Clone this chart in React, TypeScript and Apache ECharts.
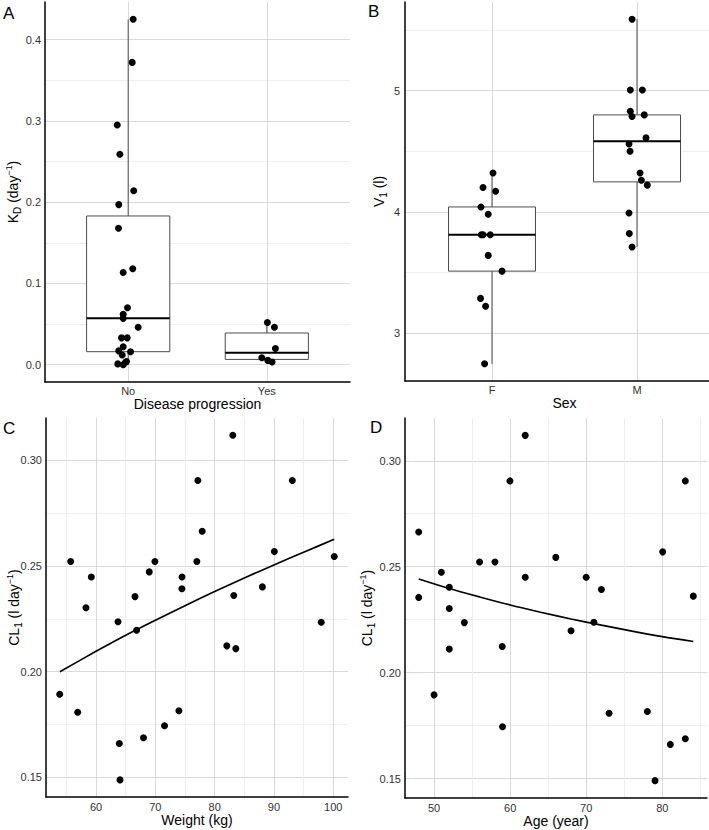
import React, { useEffect, useRef } from 'react';
import * as echarts from 'echarts';

const FONT = '"Liberation Sans", Arial, Helvetica, sans-serif';

// ---------- Panel A: K_D by disease progression ----------
const progressionCategories = ['No', 'Yes'];
const kdNoX = [1.036, 1.029, 0.921, 0.94, 1.04, 0.932, 0.93, 0.964, 1.033, 0.995, 0.964, 0.964, 1.072, 0.952, 0.993, 0.964, 0.932, 1.017, 0.957, 0.981, 0.925, 0.964, 0.988];
const kdNoY = [0.425, 0.372, 0.295, 0.259, 0.214, 0.197, 0.168, 0.1135, 0.118, 0.07, 0.062, 0.057, 0.046, 0.033, 0.033, 0.022, 0.017, 0.016, 0.012, 0.003, 0.001, 0.0, 0.004];
const kdYesX = [2.004, 2.055, 2.062, 1.964, 2.007, 2.038];
const kdYesY = [0.052, 0.046, 0.02, 0.0086, 0.0053, 0.0033];
// [position, lower whisker, Q1, median, Q3, upper whisker]
const kdBoxes = [
  [1, 0.0, 0.016, 0.057, 0.183, 0.425],
  [2, 0.0033, 0.0065, 0.0148, 0.039, 0.051],
];
const kdTicks = [0, 0.05, 0.1, 0.15, 0.2, 0.25, 0.3, 0.35, 0.4];
const kdLabels = [0, 0.1, 0.2, 0.3, 0.4];

// ---------- Panel B: V1 by sex ----------
const sexCategories = ['F', 'M'];
const v1FX = [1.007, 0.938, 1.025, 0.924, 0.974, 0.926, 0.938, 0.988, 0.974, 1.069, 0.921, 0.956, 0.949];
const v1FY = [4.32, 4.2, 4.17, 4.04, 3.98, 3.81, 3.81, 3.81, 3.64, 3.51, 3.285, 3.22, 2.745];
const v1MX = [1.966, 1.954, 2.037, 1.954, 1.966, 2.05, 2.062, 1.945, 1.952, 2.021, 2.03, 2.071, 1.945, 1.947, 1.966];
const v1MY = [5.59, 5.006, 5.006, 4.83, 4.786, 4.8, 4.61, 4.56, 4.5, 4.32, 4.26, 4.22, 3.99, 3.82, 3.71];
const v1Boxes = [
  [1, 2.745, 3.51, 3.81, 4.04, 4.32],
  [2, 3.71, 4.247, 4.583, 4.8, 5.59],
];
const v1Ticks = [3, 3.5, 4, 4.5, 5, 5.5];
const v1Labels = [3, 4, 5];

// ---------- Panel C: CL1 vs weight ----------
const weight = [83.06, 77.17, 93.1, 77.9, 90.07, 55.72, 69.93, 77.0, 100.17, 59.2, 74.5, 68.97, 74.48, 88.05, 66.57, 83.23, 58.3, 63.7, 97.98, 66.84, 82.05, 83.57, 53.87, 56.9, 73.97, 71.55, 68.0, 63.92, 64.04];
const clWeight = [0.3118, 0.2904, 0.2904, 0.2664, 0.2568, 0.2521, 0.2521, 0.2521, 0.2545, 0.2448, 0.2448, 0.2472, 0.2392, 0.2401, 0.2355, 0.236, 0.2302, 0.2236, 0.2234, 0.2196, 0.2122, 0.2109, 0.1893, 0.1808, 0.1815, 0.1744, 0.1687, 0.166, 0.1488];
const weightFitX = [53.9, 60, 65, 70, 75, 80, 85, 90, 95, 100.17];
const weightFitY = [0.2, 0.2096, 0.2172, 0.2243, 0.2312, 0.2379, 0.2443, 0.2505, 0.2565, 0.2626];
const weightTicks = [55, 60, 65, 70, 75, 80, 85, 90, 95, 100];
const weightLabels = [60, 70, 80, 90, 100];

// ---------- Panel D: CL1 vs age ----------
const age = [61.98, 59.97, 83.02, 47.98, 80.05, 66.0, 55.98, 58.0, 50.96, 61.98, 69.99, 52.0, 71.99, 47.98, 84.07, 52.0, 53.98, 71.0, 68.0, 52.0, 58.96, 50.0, 59.0, 73.0, 78.03, 83.02, 81.05, 79.04];
const clAge = [0.312, 0.2905, 0.2905, 0.2664, 0.257, 0.2544, 0.2522, 0.2522, 0.2474, 0.245, 0.245, 0.2403, 0.2392, 0.2355, 0.2361, 0.2303, 0.2236, 0.2238, 0.2198, 0.2111, 0.2123, 0.1895, 0.1744, 0.1808, 0.1816, 0.1688, 0.1661, 0.149];
const ageFitX = [47.98, 52, 56, 60, 64, 68, 72, 76, 80, 84.07];
const ageFitY = [0.2442, 0.2397, 0.2357, 0.2319, 0.2285, 0.2253, 0.2224, 0.2196, 0.2170, 0.2147];
const ageTicks = [50, 55, 60, 65, 70, 75, 80, 85];
const ageLabels = [50, 60, 70, 80];

const clTicks = [0.15, 0.175, 0.2, 0.225, 0.25, 0.275, 0.3];
const clLabels = [0.15, 0.2, 0.25, 0.3];

const MAJOR = '#d9d9d9';
const MINOR = '#eeeeee';
const BOX_HALF = 0.3;

const zip = (xs: number[], ys: number[]) => xs.map((x, i) => [x, ys[i]]);

const richName = {
  n: { fontSize: 14, fontFamily: FONT, color: '#000', lineHeight: 18 },
  s: { fontSize: 10, fontFamily: FONT, color: '#000', lineHeight: 10, verticalAlign: 'bottom' },
  p: { fontSize: 9, fontFamily: FONT, color: '#000', lineHeight: 10, verticalAlign: 'top' },
};

function valueAxis(opts: any) {
  const {
    gridIndex, min, max, ticks, labels, colors, fmt, name, nameGap, margin, horizontal,
  } = opts;
  return {
    type: 'value',
    gridIndex,
    min,
    max,
    name,
    nameLocation: 'middle',
    nameGap,
    nameMoveOverlap: !!horizontal,
    nameTextStyle: horizontal
      ? { fontSize: 14, fontFamily: FONT, color: '#000' }
      : { fontSize: 14, fontFamily: FONT, color: '#000', rich: richName },
    axisLine: { show: true, onZero: false, lineStyle: { color: '#000', width: 1.5 } },
    axisTick: { show: false, customValues: ticks },
    axisLabel: {
      customValues: labels,
      formatter: fmt,
      fontSize: 11,
      fontFamily: FONT,
      color: '#333',
      margin,
    },
    splitLine: { show: true, lineStyle: { color: colors, width: 1 } },
    minorSplitLine: { show: false },
  };
}

function renderBox(params: any, api: any) {
  const x = api.value(0);
  const lo = api.value(1);
  const q1 = api.value(2);
  const med = api.value(3);
  const q3 = api.value(4);
  const hi = api.value(5);
  const c = (v: number) => api.coord([x, v]);
  const tl = api.coord([x - BOX_HALF, q3]);
  const br = api.coord([x + BOX_HALF, q1]);
  const ml = api.coord([x - BOX_HALF, med]);
  const mr = api.coord([x + BOX_HALF, med]);
  const whisker = { stroke: '#4d4d4d', lineWidth: 1 };
  return {
    type: 'group',
    children: [
      { type: 'line', shape: { x1: c(hi)[0], y1: c(hi)[1], x2: c(q3)[0], y2: c(q3)[1] }, style: whisker },
      { type: 'line', shape: { x1: c(q1)[0], y1: c(q1)[1], x2: c(lo)[0], y2: c(lo)[1] }, style: whisker },
      {
        type: 'rect',
        shape: { x: tl[0], y: tl[1], width: br[0] - tl[0], height: br[1] - tl[1] },
        style: { fill: '#fff', stroke: '#4d4d4d', lineWidth: 1 },
      },
      { type: 'line', shape: { x1: ml[0], y1: ml[1], x2: mr[0], y2: mr[1] }, style: { stroke: '#000', lineWidth: 2 } },
    ],
  };
}

function pointSeries(xAxisIndex: number, data: number[][]) {
  return {
    type: 'scatter',
    xAxisIndex,
    yAxisIndex: xAxisIndex,
    data,
    symbol: 'circle',
    symbolSize: 7,
    itemStyle: { color: '#000', opacity: 1 },
    z: 5,
    silent: true,
  };
}

export default function App() {
  const ref = useRef<HTMLDivElement>(null);

  useEffect(() => {
    if (!ref.current) return;
    const chart = echarts.init(ref.current, null, { renderer: 'svg' });

    const option: any = {
      animation: false,
      backgroundColor: '#fff',
      grid: [
        { left: 45, top: 2, width: 305, height: 380, outerBoundsMode: 'none' },
        { left: 405, top: 2, width: 319, height: 379, outerBoundsMode: 'none' },
        { left: 46, top: 418, width: 302, height: 379, outerBoundsMode: 'none' },
        { left: 405, top: 418, width: 302, height: 380, outerBoundsMode: 'none' },
      ],
      xAxis: [
        valueAxis({
          gridIndex: 0, min: 0.4, max: 2.6, ticks: [1, 2], labels: [1, 2], colors: [MAJOR],
          fmt: (v: number) => progressionCategories[Math.round(v) - 1],
          name: 'Disease progression', nameGap: 13, margin: 3, horizontal: true,
        }),
        valueAxis({
          gridIndex: 1, min: 0.4, max: 2.6, ticks: [1, 2], labels: [1, 2], colors: [MAJOR],
          fmt: (v: number) => sexCategories[Math.round(v) - 1],
          name: 'Sex', nameGap: 14, margin: 3, horizontal: true,
        }),
        valueAxis({
          gridIndex: 2, min: 51.56, max: 102.49, ticks: weightTicks, labels: weightLabels, colors: [MINOR, MAJOR],
          fmt: (v: number) => String(v), name: 'Weight (kg)', nameGap: 15, margin: 4, horizontal: true,
        }),
        valueAxis({
          gridIndex: 3, min: 46.18, max: 85.87, ticks: ageTicks, labels: ageLabels, colors: [MAJOR, MINOR],
          fmt: (v: number) => String(v), name: 'Age (year)', nameGap: 14, margin: 4, horizontal: true,
        }),
      ],
      yAxis: [
        valueAxis({
          gridIndex: 0, min: -0.0213, max: 0.4463, ticks: kdTicks, labels: kdLabels, colors: [MAJOR, MINOR],
          fmt: (v: number) => v.toFixed(1),
          name: '{n|K}{s|D}{n| (day}{p|−1}{n|)}', nameGap: 23, margin: 4,
        }),
        valueAxis({
          gridIndex: 1, min: 2.603, max: 5.732, ticks: v1Ticks, labels: v1Labels, colors: [MAJOR, MINOR],
          fmt: (v: number) => String(v),
          name: '{n|V}{s|1}{n| (l)}', nameGap: 17, margin: 5,
        }),
        valueAxis({
          gridIndex: 2, min: 0.1407, max: 0.32, ticks: clTicks, labels: clLabels, colors: [MAJOR, MINOR],
          fmt: (v: number) => v.toFixed(2),
          name: '{n|CL}{s|1}{n| (l day}{p|−1}{n|)}', nameGap: 23, margin: 4,
        }),
        valueAxis({
          gridIndex: 3, min: 0.1408, max: 0.3202, ticks: clTicks, labels: clLabels, colors: [MAJOR, MINOR],
          fmt: (v: number) => v.toFixed(2),
          name: '{n|CL}{s|1}{n| (l day}{p|−1}{n|)}', nameGap: 29, margin: 4,
        }),
      ],
      series: [
        {
          type: 'custom', xAxisIndex: 0, yAxisIndex: 0, data: kdBoxes, renderItem: renderBox,
          encode: { x: 0, y: [1, 2, 3, 4, 5] }, z: 2, silent: true,
        },
        pointSeries(0, zip(kdNoX, kdNoY)),
        pointSeries(0, zip(kdYesX, kdYesY)),
        {
          type: 'custom', xAxisIndex: 1, yAxisIndex: 1, data: v1Boxes, renderItem: renderBox,
          encode: { x: 0, y: [1, 2, 3, 4, 5] }, z: 2, silent: true,
        },
        pointSeries(1, zip(v1FX, v1FY)),
        pointSeries(1, zip(v1MX, v1MY)),
        pointSeries(2, zip(weight, clWeight)),
        {
          type: 'line', xAxisIndex: 2, yAxisIndex: 2, data: zip(weightFitX, weightFitY),
          showSymbol: false, smooth: 0.3, lineStyle: { color: '#000', width: 1.7 }, z: 4, silent: true,
        },
        pointSeries(3, zip(age, clAge)),
        {
          type: 'line', xAxisIndex: 3, yAxisIndex: 3, data: zip(ageFitX, ageFitY),
          showSymbol: false, smooth: 0.3, lineStyle: { color: '#000', width: 1.7 }, z: 4, silent: true,
        },
      ],
      graphic: [
        { type: 'text', left: 3, top: 5, style: { text: 'A', fontSize: 17, fontFamily: FONT, fill: '#000' } },
        { type: 'text', left: 368, top: 3, style: { text: 'B', fontSize: 17, fontFamily: FONT, fill: '#000' } },
        { type: 'text', left: 3, top: 420, style: { text: 'C', fontSize: 17, fontFamily: FONT, fill: '#000' } },
        { type: 'text', left: 370, top: 419, style: { text: 'D', fontSize: 17, fontFamily: FONT, fill: '#000' } },
      ],
    };

    chart.setOption(option);
    return () => {
      chart.dispose();
    };
  }, []);

  return (
    <div
      ref={ref}
      style={{ position: 'fixed', left: 0, top: 0, width: 709, height: 830, background: '#fff' }}
    />
  );
}
